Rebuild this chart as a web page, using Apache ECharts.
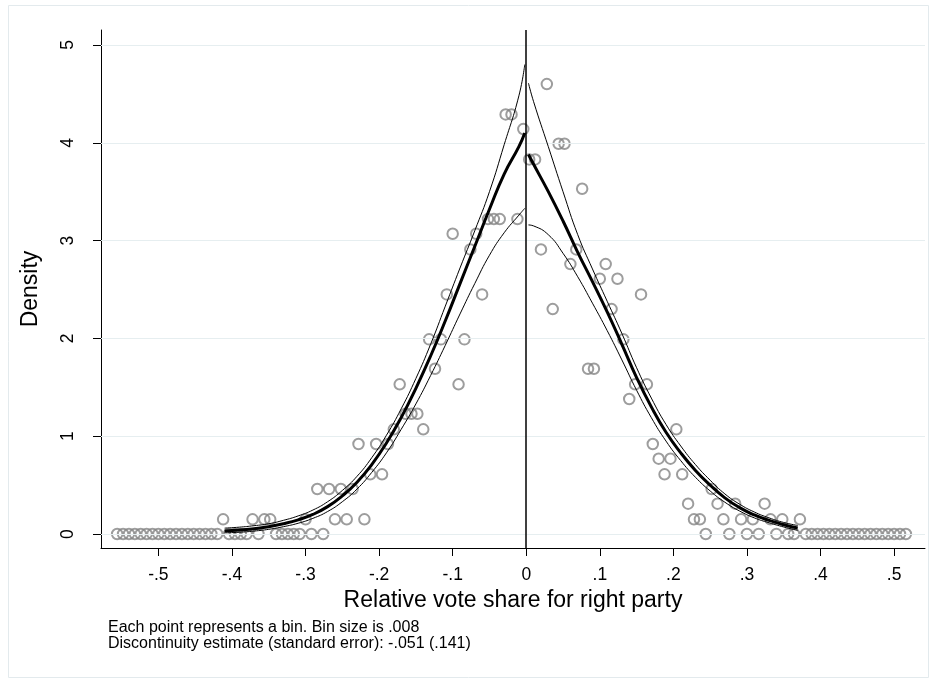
<!DOCTYPE html>
<html><head><meta charset="utf-8">
<script src="https://cdn.jsdelivr.net/npm/echarts@6/dist/echarts.min.js"></script>
<style>html,body{margin:0;padding:0;background:#fff}#c{width:937px;height:684px}</style>
</head><body><div id="c"></div>
<script>
// Bin midpoints (bin size .008), left of cutoff
const leftBins = [-0.556,-0.548,-0.540,-0.532,-0.524,-0.516,-0.508,-0.500,-0.492,-0.484,-0.476,-0.468,-0.460,-0.452,-0.444,-0.436,-0.428,-0.420,
  -0.412,-0.404,-0.396,-0.388,-0.380,-0.372,-0.364,-0.356,-0.348,-0.340,-0.332,-0.324,-0.316,-0.308,-0.300,-0.292,-0.284,-0.276,-0.268,-0.260,
  -0.252,-0.244,-0.236,-0.228,-0.220,-0.212,-0.204,-0.196,-0.188,-0.180,-0.172,-0.164,-0.156,-0.148,-0.140,-0.132,-0.124,-0.116,-0.108,-0.100,
  -0.092,-0.084,-0.076,-0.068,-0.060,-0.052,-0.044,-0.036,-0.028,-0.020,-0.012,-0.004];
const leftDensity = [0,0,0,0,0,0,0,0,0,0,0,0,0,0,0,0,0,0,
  0.15,0,0,0,0,0.15,0,0.15,0.15,0,0,0,0,0,0.15,0,0.46,0,0.46,0.15,
  0.46,0.15,0.46,0.92,0.15,0.61,0.92,0.61,0.92,1.07,1.53,1.23,1.23,1.23,1.07,1.99,1.69,1.99,2.45,3.07,
  1.53,1.99,2.91,3.07,2.45,3.22,3.22,3.22,4.29,4.29,3.22,4.14];
// Bin midpoints right of cutoff
const rightBins = [0.004,0.012,0.020,0.028,0.036,0.044,0.052,0.060,0.068,0.076,0.084,0.092,0.100,0.108,0.116,0.124,0.132,0.140,0.148,0.156,
  0.164,0.172,0.180,0.188,0.196,0.204,0.212,0.220,0.228,0.236,0.244,0.252,0.260,0.268,0.276,0.284,0.292,0.300,0.308,0.316,
  0.324,0.332,0.340,0.348,0.356,0.364,0.372,0.380,0.388,0.396,0.404,0.412,0.420,0.428,0.436,0.444,0.452,0.460,0.468,0.476,
  0.484,0.492,0.500,0.508,0.516];
const rightDensity = [3.83,3.83,2.91,4.60,2.30,3.99,3.99,2.76,2.91,3.53,1.69,1.69,2.61,2.76,2.30,2.61,1.99,1.38,1.53,2.45,
  1.53,0.92,0.77,0.61,0.77,1.07,0.61,0.31,0.15,0.15,0,0.46,0.31,0.15,0,0.31,0.15,0,0.15,0,
  0.31,0.15,0,0.15,0,0,0.15,0,0,0,0,0,0,0,0,0,0,0,0,0,
  0,0,0,0,0];
// Fitted density and 95% confidence bands, left of cutoff
const leftFitX  = [-0.41,-0.39,-0.37,-0.35,-0.33,-0.31,-0.29,-0.27,-0.25,-0.23,-0.21,-0.19,-0.17,-0.15,-0.13,-0.11,-0.09,-0.07,-0.05,-0.03,-0.01,-0.002];
const leftFit   = [0.03,0.04,0.055,0.075,0.105,0.145,0.20,0.28,0.39,0.53,0.71,0.93,1.19,1.49,1.82,2.18,2.56,2.94,3.32,3.68,3.96,4.10];
const leftUpper = [0.06,0.07,0.085,0.105,0.14,0.185,0.245,0.33,0.445,0.59,0.78,1.01,1.28,1.59,1.94,2.33,2.72,3.10,3.50,3.98,4.48,4.80];
const leftLower = [0.012,0.018,0.03,0.048,0.075,0.11,0.16,0.23,0.33,0.46,0.63,0.83,1.07,1.33,1.62,1.93,2.25,2.56,2.85,3.08,3.26,3.33];
// Fitted density and 95% confidence bands, right of cutoff
const rightFitX  = [0.003,0.01,0.03,0.05,0.07,0.09,0.11,0.13,0.15,0.17,0.19,0.21,0.23,0.25,0.27,0.29,0.31,0.33,0.35,0.369];
const rightFit   = [3.88,3.78,3.50,3.20,2.88,2.58,2.27,1.94,1.60,1.30,1.04,0.83,0.65,0.50,0.37,0.27,0.195,0.14,0.095,0.062];
const rightUpper = [4.61,4.42,3.96,3.50,3.06,2.71,2.38,2.05,1.70,1.39,1.12,0.90,0.71,0.55,0.41,0.305,0.225,0.165,0.118,0.087];
const rightLower = [3.16,3.15,3.06,2.87,2.63,2.36,2.08,1.78,1.47,1.19,0.95,0.75,0.58,0.44,0.325,0.235,0.165,0.115,0.072,0.037];
// Axis ticks and texts
const xTicks = [-0.5,-0.4,-0.3,-0.2,-0.1,0,0.1,0.2,0.3,0.4,0.5];
const yTicks = [0,1,2,3,4,5];
const cutoff = 0;
const xTitle = 'Relative vote share for right party';
const yTitle = 'Density';
const note1 = 'Each point represents a bin. Bin size is .008';
const note2 = 'Discontinuity estimate (standard error): -.051 (.141)';

const FONT = 'Liberation Sans, Arial, Helvetica, sans-serif';
const zip = (xs, ys) => xs.map((x, i) => [x, ys[i]]);
const fmt = v => { if (Math.abs(v) < 1e-9) return '0'; return (v < 0 ? '-' : '') + '.' + Math.round(Math.abs(v) * 10); };

const chart = echarts.init(document.getElementById('c'), null, {renderer: 'canvas'});
const lineSeries = (xs, ys, w) => ({
  type: 'line', data: zip(xs, ys), showSymbol: false, symbol: 'none', smooth: 0.5,
  lineStyle: {color: '#000', width: w, cap: 'butt', join: 'round'}, z: 5, silent: true
});
chart.setOption({
  animation: false,
  backgroundColor: '#fff',
  textStyle: {fontFamily: FONT},
  grid: {left: 101, right: 12, top: 30, bottom: 136, containLabel: false},
  xAxis: {
    type: 'value', min: -0.578, max: 0.542,
    axisLine: {onZero: false, lineStyle: {color: '#000', width: 1}},
    axisTick: {show: true, customValues: xTicks, length: 8, lineStyle: {color: '#000', width: 1}},
    axisLabel: {customValues: xTicks, formatter: fmt, fontSize: 17.5, color: '#000', margin: 18, fontFamily: FONT},
    splitLine: {show: false},
    name: xTitle, nameLocation: 'middle', nameGap: 40,
    nameTextStyle: {fontSize: 23, color: '#000', fontFamily: FONT}
  },
  yAxis: {
    type: 'value', min: -0.143, max: 5.153,
    axisLine: {show: true, onZero: false, lineStyle: {color: '#000', width: 1}},
    axisTick: {show: true, customValues: yTicks, length: 8, lineStyle: {color: '#000', width: 1}},
    axisLabel: {customValues: yTicks, rotate: 90, fontSize: 17.5, color: '#000', margin: 24, fontFamily: FONT},
    splitLine: {show: false},
    name: yTitle, nameLocation: 'middle', nameGap: 59, nameRotate: 90,
    nameTextStyle: {fontSize: 23, color: '#000', fontFamily: FONT}
  },
  graphic: [
    {type: 'rect', shape: {x: 8.5, y: 5.5, width: 920, height: 672}, style: {fill: 'none', stroke: '#e3eaed', lineWidth: 1}, silent: true, z: -1},
    {type: 'text', left: 108, top: 620, style: {text: note1, font: '16px ' + FONT, fill: '#000'}},
    {type: 'text', left: 108, top: 636, style: {text: note2, font: '16px ' + FONT, fill: '#000'}}
  ],
  series: [
    {type: 'line', data: [], z: 0, silent: true,
     markLine: {silent: true, symbol: 'none', label: {show: false}, animation: false,
       lineStyle: {color: '#e6eef0', width: 1, type: 'solid'},
       data: yTicks.map(v => ({yAxis: v}))}},
    {type: 'scatter', data: zip(leftBins, leftDensity).concat(zip(rightBins, rightDensity)),
     symbol: 'circle', symbolSize: 10.5, silent: true, z: 3,
     itemStyle: {color: 'rgba(0,0,0,0)', borderColor: '#858585', borderWidth: 2}},
    lineSeries(leftFitX, leftUpper, 1),
    lineSeries(leftFitX, leftLower, 1),
    lineSeries(leftFitX, leftFit, 3),
    lineSeries(rightFitX, rightUpper, 1),
    lineSeries(rightFitX, rightLower, 1),
    lineSeries(rightFitX, rightFit, 3),
    {type: 'line', data: [], z: 6, silent: true,
     markLine: {silent: true, symbol: 'none', label: {show: false}, animation: false,
       lineStyle: {color: '#000', width: 1.5, type: 'solid'},
       data: [{xAxis: cutoff}]}}
  ]
});
</script></body></html>
